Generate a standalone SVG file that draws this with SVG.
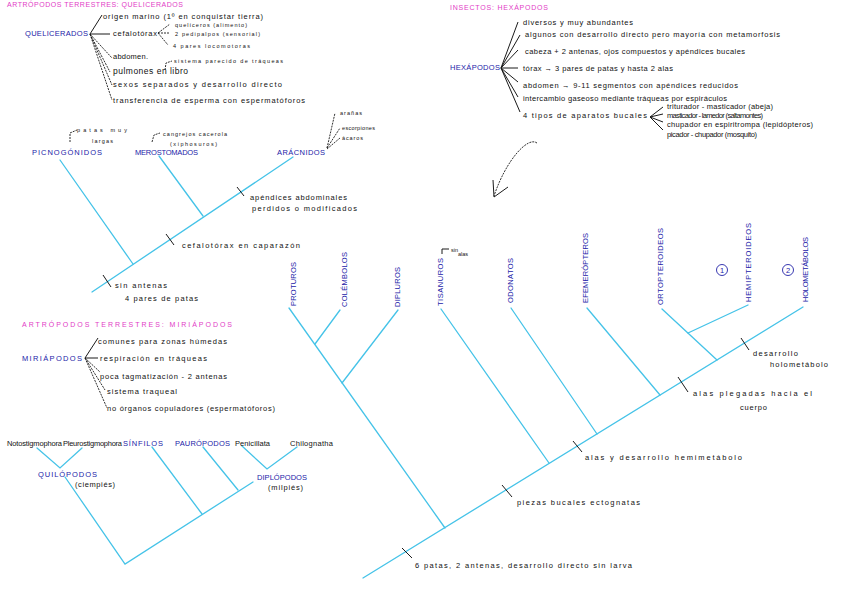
<svg xmlns="http://www.w3.org/2000/svg" width="848" height="601" viewBox="0 0 848 601">
<style>
text{font-family:"Liberation Sans","DejaVu Sans",sans-serif;}
.t{fill:#111111;font-size:7.5px;}
.tb{fill:#111111;font-size:8.5px;}
.s{fill:#111111;font-size:5.5px;}
.b{fill:#2222a8;font-size:7.5px;}
.h{fill:#e23cc6;font-size:7px;}
.c{stroke:#45c3e8;stroke-width:1.3;fill:none;stroke-linecap:round;}
.k{stroke:#1a1a1a;stroke-width:1;fill:none;}
.kd{stroke:#1a1a1a;stroke-width:0.9;fill:none;stroke-dasharray:2 1;}
</style>
<rect width="848" height="601" fill="#ffffff"/>

<!-- QUELICERADOS block -->
<g id="quel-block">
<text class="h" x="7" y="7" textLength="176">ARTRÓPODOS TERRESTRES: QUELICERADOS</text>
<text class="b" x="25" y="36" textLength="63">QUELICERADOS</text>
<path class="k" d="M90,34 L102,15 M90,34 L110,34"/>
<path class="kd" d="M90,34 L112,58 M90,34 L110,72 M90,34 L112,85 M90,34 L112,100"/>
<text class="t" x="103" y="19" textLength="160">origen marino (1º en conquistar tierra)</text>
<text class="t" x="113" y="36" textLength="44">cefalotórax</text>
<path class="kd" d="M158,33 L170,24 M158,33 L170,33 M158,33 L168,45"/>
<text class="s" x="175" y="27" textLength="72">quelíceros (alimento)</text>
<text class="s" x="175" y="36" textLength="85">2 pedipalpos (sensorial)</text>
<text class="s" x="173" y="48" textLength="77">4 pares locomotoras</text>
<text class="t" x="113" y="59" textLength="35">abdomen.</text>
<text class="tb" x="113" y="74" textLength="75">pulmones en libro</text>
<path class="kd" d="M165,70 L166,63 L172,61"/>
<text class="s" x="174" y="63" textLength="109">sistema parecido de tráqueas</text>
<text class="t" x="113" y="87" textLength="169">sexos separados y desarrollo directo</text>
<text class="t" x="113" y="103" textLength="192">transferencia de esperma con espermatóforos</text>
</g>

<!-- HEXÁPODOS block -->
<g id="hexa-block">
<text class="h" x="450" y="10" textLength="98">INSECTOS: HEXÁPODOS</text>
<text class="b" x="450" y="70" textLength="50">HEXÁPODOS</text>
<path class="k" d="M501,68 L518,22 M501,68 L520,35 M501,68 L518,50 M501,68 L518,68 M501,68 L518,82 M501,68 L518,97 M501,68 L520,112"/>
<text class="t" x="523" y="25" textLength="110">diversos y muy abundantes</text>
<text class="t" x="525" y="37" textLength="255">algunos con desarrollo directo pero mayoría con metamorfosis</text>
<text class="t" x="525" y="54" textLength="220">cabeza + 2 antenas, ojos compuestos y apéndices bucales</text>
<text class="t" x="523" y="71" textLength="150">tórax → 3 pares de patas y hasta 2 alas</text>
<text class="t" x="523" y="88" textLength="215">abdomen → 9-11 segmentos con apéndices reducidos</text>
<text class="t" x="523" y="101" textLength="204">intercambio gaseoso mediante tráqueas por espiráculos</text>
<text class="t" x="523" y="118" textLength="124">4 tipos de aparatos bucales</text>
<path class="k" d="M650,117 L663,107 M650,117 L663,114 M650,117 L663,122 M650,117 L663,130"/>
<text class="t" x="667" y="109" textLength="106">triturador - masticador (abeja)</text>
<text class="t" x="667" y="118" textLength="96">masticador - lamedor (saltamontes)</text>
<text class="t" x="667" y="127" textLength="146">chupador en espiritrompa (lepidópteros)</text>
<text class="t" x="667" y="137" textLength="90">picador - chupador (mosquito)</text>
</g>

<!-- curved arrow -->
<g id="arrow">
<path class="kd" d="M537,143 C528,136 506,160 494,196"/>
<path class="k" d="M493,180 L494,197 L508,187"/>
</g>

<!-- MIRIÁPODOS block -->
<g id="miria-block">
<text class="h" x="22" y="327" textLength="210">ARTRÓPODOS TERRESTRES: MIRIÁPODOS</text>
<text class="b" x="22" y="361" textLength="60">MIRIÁPODOS</text>
<path class="k" d="M85,358 L98,338 M85,358 L98,358"/>
<path class="kd" d="M85,358 L100,372 M85,358 L105,390 M85,358 L107,408"/>
<text class="t" x="98" y="344" textLength="129">comunes para zonas húmedas</text>
<text class="t" x="100" y="361" textLength="107">respiración en tráqueas</text>
<text class="t" x="100" y="379" textLength="127">poca tagmatización - 2 antenas</text>
<text class="t" x="107" y="394" textLength="70">sistema traqueal</text>
<text class="t" x="107" y="411" textLength="168">no órganos copuladores (espermatóforos)</text>
</g>

<!-- connectors -->
<g id="connectors">
<path class="c" d="M92,292 L293,157"/>
<path class="c" d="M159,156 L203,216"/>
<path class="c" d="M60,160 L133,264"/>
<path class="k" d="M237,187 L244,196"/>
<path class="k" d="M166,234 L174,245"/>
<path class="k" d="M103,275 L111,287"/>
<path class="c" d="M37,448 L60,468 L82,448"/>
<path class="c" d="M65,477 L125,564 L253,482"/>
<path class="c" d="M152,447 L202,514"/>
<path class="c" d="M203,447 L238,490"/>
<path class="c" d="M242,446 L267,469 L297,447"/>
<path class="c" d="M363,578 L803,307"/>
<path class="c" d="M289,308 L445,528"/>
<path class="c" d="M340,310 L315,344"/>
<path class="c" d="M398,310 L342,383"/>
<path class="c" d="M441,309 L549,463"/>
<path class="c" d="M511,308 L597,434"/>
<path class="c" d="M587,308 L660,395"/>
<path class="c" d="M662,309 L717,360"/>
<path class="c" d="M748,305 L688,333"/>
<path class="k" d="M402,548 L412,558"/>
<path class="k" d="M502,485 L512,497"/>
<path class="k" d="M573,441 L582,452"/>
<path class="k" d="M678,377 L688,392"/>
<path class="k" d="M741,338 L749,350"/>
<path class="kd" d="M70,142 L70,133 L77,130"/>
<path class="kd" d="M152,142 L154,135 L160,133"/>
<path class="kd" d="M327,148 L335,113 M327,148 L340,128 M327,149 L340,138"/>
<path class="k" d="M442,254 L442,249 L449,249"/>
</g>

<g id="picnogonidos">
<text class="b" x="32" y="155" textLength="70">PICNOGÓNIDOS</text>
<text class="s" x="77" y="132" textLength="50">patas muy</text>
<text class="s" x="92" y="143" textLength="21">largas</text>
</g>
<g id="merostomados">
<text class="b" x="135" y="155" textLength="63">MEROSTOMADOS</text>
<text class="s" x="163" y="136" textLength="64">cangrejos cacerola</text>
<text class="s" x="170" y="146" textLength="47">(xiphosuros)</text>
</g>
<g id="aracnidos">
<text class="b" x="277" y="155" textLength="48">ARÁCNIDOS</text>
<text class="s" x="340" y="115" textLength="22">arañas</text>
<text class="s" x="342" y="130" textLength="33">escorpiones</text>
<text class="s" x="342" y="140" textLength="21">ácaros</text>
</g>
<g id="quel-notes">
<text class="t" x="250" y="200" textLength="97">apéndices abdominales</text>
<text class="t" x="252" y="211" textLength="105">perdidos o modificados</text>
<text class="t" x="182" y="248" textLength="118">cefalotórax en caparazón</text>
<text class="t" x="115" y="288" textLength="52">sin antenas</text>
<text class="t" x="125" y="301" textLength="73">4 pares de patas</text>
</g>

<g id="notostigmophora"><text class="t" x="7" y="446" textLength="55">Notostigmophora</text></g>
<g id="pleurostigmophora"><text class="t" x="63" y="446" textLength="59">Pleurostigmophora</text></g>
<g id="sinfilos"><text class="b" x="123" y="446" textLength="40">SÍNFILOS</text></g>
<g id="pauropodos"><text class="b" x="175" y="446" textLength="55">PAURÓPODOS</text></g>
<g id="penicillata"><text class="t" x="235" y="446" textLength="35">Penicillata</text></g>
<g id="chilognatha"><text class="t" x="290" y="446" textLength="43">Chilognatha</text></g>
<g id="quilopodos">
<text class="b" x="38" y="477" textLength="59">QUILÓPODOS</text>
<text class="t" x="75" y="487" textLength="40">(ciempiés)</text>
</g>
<g id="diplopodos">
<text class="b" x="257" y="480" textLength="50">DIPLÓPODOS</text>
<text class="t" x="268" y="490" textLength="35">(milpiés)</text>
</g>

<g id="proturos"><text class="b" transform="translate(296,306) rotate(-90)" textLength="44">PROTUROS</text></g>
<g id="colembolos"><text class="b" transform="translate(347,307) rotate(-90)" textLength="55">COLÉMBOLOS</text></g>
<g id="dipluros"><text class="b" transform="translate(400,307) rotate(-90)" textLength="40">DIPLUROS</text></g>
<g id="tisanuros">
<text class="b" transform="translate(443,306) rotate(-90)" textLength="48">TISANUROS</text>
<text class="s" x="451" y="252">sin</text>
<text class="s" x="458" y="256">alas</text>
</g>
<g id="odonatos"><text class="b" transform="translate(513,303) rotate(-90)" textLength="45">ODONATOS</text></g>
<g id="efemeropteros"><text class="b" transform="translate(588,303) rotate(-90)" textLength="70">EFEMERÓPTEROS</text></g>
<g id="ortopteroideos"><text class="b" transform="translate(663,305) rotate(-90)" textLength="77">ORTOPTEROIDEOS</text></g>
<g id="hemipteroideos">
<text class="b" transform="translate(751,302) rotate(-90)" textLength="79">HEMIPTEROIDEOS</text>
<circle cx="722" cy="270" r="5.5" fill="none" stroke="#2222a8" stroke-width="0.9"/>
<text class="b" x="722" y="273" text-anchor="middle">1</text>
</g>
<g id="holometabolos">
<text class="b" transform="translate(808,302) rotate(-90)" textLength="65">HOLOMETÁBOLOS</text>
<circle cx="788" cy="270" r="5.5" fill="none" stroke="#2222a8" stroke-width="0.9"/>
<text class="b" x="788" y="273" text-anchor="middle">2</text>
</g>
<g id="hexa-notes">
<text class="t" x="415" y="568" textLength="217">6 patas, 2 antenas, desarrollo directo sin larva</text>
<text class="t" x="517" y="505" textLength="123">piezas bucales ectognatas</text>
<text class="t" x="585" y="460" textLength="157">alas y desarrollo hemimetábolo</text>
<text class="t" x="693" y="396" textLength="119">alas plegadas hacia el</text>
<text class="t" x="740" y="410" textLength="27">cuerpo</text>
<text class="t" x="753" y="356" textLength="45">desarrollo</text>
<text class="t" x="770" y="367" textLength="58">holometábolo</text>
</g>
</svg>
